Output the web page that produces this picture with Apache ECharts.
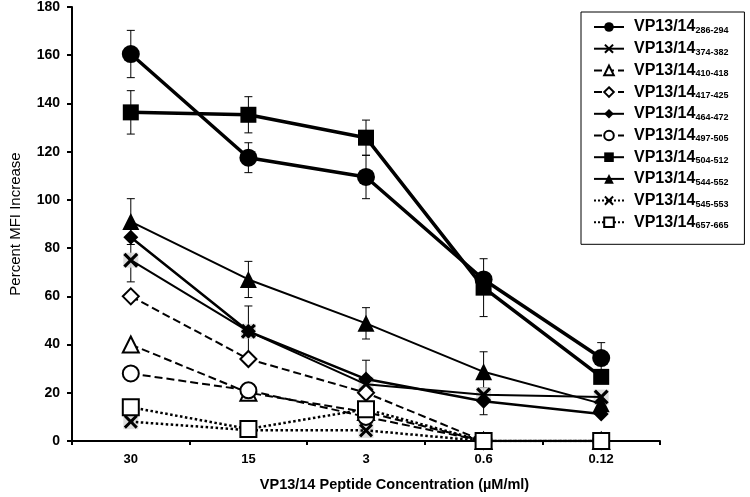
<!DOCTYPE html>
<html><head><meta charset="utf-8">
<script src="https://cdn.jsdelivr.net/npm/echarts@6/dist/echarts.min.js"></script>
<style>html,body{margin:0;padding:0;background:#fff}#c{width:750px;height:497px}</style>
</head><body><div id="c"></div>
<script>
// ---- Data ----
const categories = ['30', '15', '3', '0.6', '0.12'];
const yTicks = [0, 20, 40, 60, 80, 100, 120, 140, 160, 180];
const peptidePrefix = 'VP13/14';
const subscripts = ['286-294', '374-382', '410-418', '417-425', '464-472', '497-505', '504-512', '544-552', '545-553', '657-665'];

const v286 = [160.5, 117.5, 109.5, 67, 34.4];
const v374 = [75, 45.5, 23.5, 19.2, 18.2];
const v410 = [40, 20, 12, 0, 0];
const v417 = [60, 34, 20, 0, 0];
const v464 = [84.5, 45.5, 25.7, 16.5, 11.2];
const v497 = [28, 21, 10, 0, 0];
const v504 = [136.3, 135.3, 125.8, 63.6, 26.6];
const v544 = [91, 67, 48.8, 28.7, 15.5];
const v545 = [8, 4.5, 4.4, 0, 0];
const v657 = [14, 5, 13.2, 0, 0];

// symmetric error bars (0 = none drawn)
const e286 = [9.8, 6.2, 9, 0, 6.4];
const e504 = [9, 7.5, 7.3, 12, 0];
const e544 = [9.5, 7.5, 6.5, 8.3, 0];
const e374 = [9, 10.5, 10, 0, 0];
const e464 = [0, 0, 0, 5.6, 0];

// ---- Styles ----
const XPATH = 'path://M0,3 L3,0 L10,7 L17,0 L20,3 L13,10 L20,17 L17,20 L10,13 L3,20 L0,17 L7,10 Z';
const values = [v286, v374, v410, v417, v464, v497, v504, v544, v545, v657];
const errors = [e286, e374, null, null, e464, null, e504, e544, null, null];
const styles = [
  {symbol: 'circle', size: 18, fill: '#000', lw: 3.5, type: 'solid'},
  {symbol: XPATH, size: 15, fill: '#000', lw: 2, type: 'solid'},
  {symbol: 'triangle', size: 16, fill: '#fff', lw: 2, type: 'dashed'},
  {symbol: 'diamond', size: 16, fill: '#fff', lw: 2, type: 'dashed'},
  {symbol: 'diamond', size: 15, fill: '#000', lw: 2.5, type: 'solid'},
  {symbol: 'circle', size: 16, fill: '#fff', lw: 2, type: 'dashed'},
  {symbol: 'rect', size: 16, fill: '#000', lw: 3.5, type: 'solid'},
  {symbol: 'triangle', size: 17, fill: '#000', lw: 2, type: 'solid'},
  {symbol: XPATH, size: 14, fill: '#000', lw: 2.5, type: 'dotted'},
  {symbol: 'rect', size: 16, fill: '#fff', lw: 2.5, type: 'dotted'}
];

const series = [];
values.forEach((vals, i) => {
  const st = styles[i];
  series.push({
    name: subscripts[i],
    type: 'line',
    data: vals,
    symbol: st.symbol,
    symbolSize: st.size,
    z: 3,
    lineStyle: {color: '#000', width: st.lw, type: st.type},
    itemStyle: {color: st.fill, borderColor: '#000', borderWidth: st.fill === '#fff' ? 2 : 0, opacity: 1},
    emphasis: {disabled: true},
    animation: false
  });
});

// light grey marker backgrounds behind the X markers
[v374, v545].forEach((vals) => {
  series.push({
    type: 'scatter',
    data: vals,
    symbol: 'rect',
    symbolSize: 15,
    z: 2,
    silent: true,
    animation: false,
    itemStyle: {color: '#d9d9d9', opacity: 0.9}
  });
});

const errData = [];
errors.forEach((errs, i) => {
  if (!errs) return;
  errs.forEach((e, j) => { if (e > 0) errData.push([j, values[i][j], e]); });
});
series.push({
  type: 'custom',
  z: 1,
  silent: true,
  animation: false,
  data: errData,
  renderItem: function (params, api) {
    const x = api.value(0), y = api.value(1), e = api.value(2);
    const hi = api.coord([x, y + e]);
    const lo = api.coord([x, y - e]);
    const w = 4;
    const st = {stroke: '#000', lineWidth: 1};
    return {type: 'group', children: [
      {type: 'line', shape: {x1: hi[0], y1: hi[1], x2: lo[0], y2: lo[1]}, style: st},
      {type: 'line', shape: {x1: hi[0] - w, y1: hi[1], x2: hi[0] + w, y2: hi[1]}, style: st},
      {type: 'line', shape: {x1: lo[0] - w, y1: lo[1], x2: lo[0] + w, y2: lo[1]}, style: st}
    ]};
  }
});

const chart = echarts.init(document.getElementById('c'), null, {renderer: 'canvas'});
chart.setOption({
  backgroundColor: '#fff',
  animation: false,
  textStyle: {fontFamily: 'Liberation Sans, Arial, sans-serif'},
  grid: {left: 59, right: 90, top: 5, bottom: 46, containLabel: false},
  xAxis: {
    type: 'category',
    data: categories,
    boundaryGap: true,
    name: 'VP13/14 Peptide Concentration (\u00b5M/ml)',
    nameLocation: 'middle',
    nameGap: 36,
    nameTextStyle: {color: '#000', fontSize: 14.5, fontWeight: 'bold', padding: [0, 0, 0, 57]},
    axisLine: {lineStyle: {color: '#000', width: 2}},
    axisTick: {show: true, inside: false, length: 4, alignWithLabel: false, lineStyle: {color: '#000', width: 2}},
    axisLabel: {color: '#000', fontSize: 13, fontWeight: 'bold', margin: 12},
    splitLine: {show: false}
  },
  yAxis: {
    type: 'value',
    min: yTicks[0],
    max: yTicks[yTicks.length - 1],
    interval: yTicks[1] - yTicks[0],
    name: 'Percent MFI Increase',
    nameLocation: 'middle',
    nameGap: 49,
    nameTextStyle: {color: '#000', fontSize: 15},
    axisLine: {show: true, lineStyle: {color: '#000', width: 2}},
    axisTick: {show: true, inside: false, length: 5, lineStyle: {color: '#000', width: 2}},
    axisLabel: {color: '#000', fontSize: 14, fontWeight: 'bold', margin: 12},
    splitLine: {show: false}
  },
  legend: {
    orient: 'vertical',
    left: 581,
    top: 12,
    padding: [7, 16, 14, 12],
    itemGap: 5.7,
    itemWidth: 30,
    itemHeight: 12,
    borderColor: '#000',
    borderWidth: 1,
    backgroundColor: '#fff',
    data: subscripts,
    formatter: function (name) { return '{a|' + peptidePrefix + '}{b|' + name + '}'; },
    textStyle: {
      color: '#000',
      rich: {
        a: {fontSize: 16, fontWeight: 'bold', color: '#000', lineHeight: 16, padding: [0, 0, 0, 5]},
        b: {fontSize: 9, fontWeight: 'bold', color: '#000', lineHeight: 8, verticalAlign: 'bottom'}
      }
    }
  },
  series: series
});
</script></body></html>
